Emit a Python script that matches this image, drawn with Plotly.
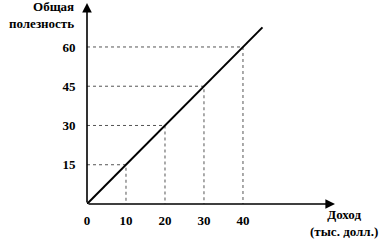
import plotly.graph_objects as go

income = [10, 20, 30, 40]          # Доход (тыс. долл.)
utility = [15, 30, 45, 60]         # Общая полезность
line_x = [0, 45]
line_y = [0, 67.5]
x_ticks = [0, 10, 20, 30, 40]
y_ticks = [15, 30, 45, 60]

FAM = "Liberation Serif"

fig = go.Figure()

# dotted guide lines
for xv, yv in zip(income, utility):
    fig.add_trace(go.Scatter(x=[0, xv, xv], y=[yv, yv, 0], mode="lines",
                             line=dict(color="#555555", width=1, dash="dot"),
                             hoverinfo="skip", showlegend=False))

fig.add_trace(go.Scatter(x=line_x, y=line_y, mode="lines",
                         line=dict(color="black", width=2), showlegend=False))

XMAX = 63.6
YMAX = 76.8

fig.update_layout(
    width=390, height=241,
    margin=dict(l=87, r=55, t=3, b=37),
    plot_bgcolor="white", paper_bgcolor="white",
    font=dict(family=FAM, size=12, color="black"),
    xaxis=dict(range=[0, XMAX], showgrid=False, zeroline=False, showline=False,
               tickvals=x_ticks, ticktext=["<b>%d</b>" % v for v in x_ticks],
               ticks="outside", ticklen=4, tickcolor="rgba(0,0,0,0)",
               tickfont=dict(family=FAM, size=13, color="black")),
    yaxis=dict(range=[0, YMAX], showgrid=False, zeroline=False, showline=False,
               tickvals=y_ticks, ticktext=["<b>%d</b>" % v for v in y_ticks],
               ticks="outside", ticklen=8, tickcolor="rgba(0,0,0,0)",
               tickfont=dict(family=FAM, size=13, color="black")),
)

# axes as arrows
fig.add_annotation(x=XMAX, y=0, ax=0, ay=0, xref="x", yref="y", axref="x", ayref="y",
                   showarrow=True, arrowhead=2, arrowsize=1.2, arrowwidth=1.6,
                   arrowcolor="black", text="")
fig.add_annotation(x=0, y=YMAX, ax=0, ay=0, xref="x", yref="y", axref="x", ayref="y",
                   showarrow=True, arrowhead=2, arrowsize=1.2, arrowwidth=1.6,
                   arrowcolor="black", text="")

def px_to_paper(px, py):
    return (px - 87) / (390 - 87 - 55), (241 - 37 - py) / (241 - 3 - 37)

tx, ty = px_to_paper(76, 15)
fig.add_annotation(x=tx, y=ty, xref="paper", yref="paper", xanchor="right", yanchor="middle",
                   text="<b>Общая<br>полезность</b>", align="right", showarrow=False,
                   font=dict(family=FAM, size=13, color="black"))
tx, ty = px_to_paper(344, 223)
fig.add_annotation(x=tx, y=ty, xref="paper", yref="paper", xanchor="center", yanchor="middle",
                   text="<b>Доход<br>(тыс. долл.)</b>", align="center", showarrow=False,
                   font=dict(family=FAM, size=13, color="black"))

fig.write_html("out.html")
